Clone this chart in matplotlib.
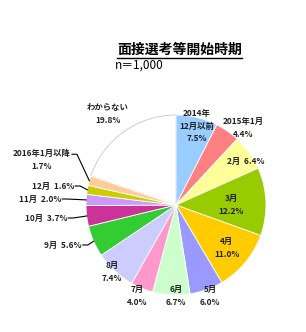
import numpy as np
import matplotlib.pyplot as plt

plt.rcParams['font.family'] = ['Noto Sans CJK JP', 'DejaVu Sans']

# --- data ---
labels = ['2014年\n12月以前', '2015年1月', '2月', '3月', '4月', '5月', '6月', '7月',
          '8月', '9月', '10月', '11月', '12月', '2016年1月以降', 'わからない']
values = [7.5, 4.4, 6.4, 12.2, 11.0, 6.0, 6.7, 4.0, 7.4, 5.6, 3.7, 2.0, 1.6, 1.7, 19.8]
colors = ['#99ccff', '#ff8080', '#ffff99', '#99cc00', '#ffcc00', '#9999ff', '#ccffcc',
          '#ff99cc', '#ccccff', '#33cc33', '#cc3399', '#cc99ff', '#cccc00', '#ffcc99', '#ffffff']
title = '面接選考等開始時期'
n_text = 'n＝1,000'

# --- layout (pixel coords, image y downwards) ---
W, H = 306, 332
cx, cy, R = 176, 205, 90
label_pos = [(197, 126), (243, 128), (246, 161), (231, 205), (227, 248), (210, 296),
             (176, 296), (137, 296), (112, 272), (63, 245), (46, 218), (40, 199),
             (53, 186), (42, 160), (108, 114)]
seps = ['\n', '\n', '  ', '\n', '\n', '\n', '\n', '\n', '\n', '  ', '  ', '  ', '  ', '\n', '\n']
leader = [9, 10, 11, 12, 13]

fig = plt.figure(figsize=(W / 100, H / 100), dpi=100)
ax = fig.add_axes([0, 0, 1, 1])
wedges, _ = ax.pie(values, colors=colors, startangle=90, counterclock=False,
                   radius=R, center=(cx, H - cy),
                   wedgeprops=dict(linewidth=0.6, edgecolor='white'))
wedges[-1].set_edgecolor('#c8c8c8')
wedges[-1].set_zorder(0.5)
ax.set_xlim(0, W)
ax.set_ylim(0, H)
ax.set_aspect('equal')
ax.axis('off')

texts = []
for lab, v, (px, py), s in zip(labels, values, label_pos, seps):
    t = ax.text(px, H - py, f'{lab}{s}{v:.1f}%', ha='center', va='center',
                fontsize=6, color='#222222', fontweight='bold', linespacing=1.5)
    texts.append(t)

# leader lines
fig.canvas.draw()
cum = np.cumsum([0] + values)
for i in leader:
    bb = texts[i].get_window_extent()
    if '\n' in texts[i].get_text():
        ty = bb.y1 - 5
    else:
        ty = (bb.y0 + bb.y1) / 2
    mid = (cum[i] + cum[i + 1]) / 2 / 100 * 2 * np.pi
    ex = cx + R * np.sin(mid)
    ey = (H - cy) + R * np.cos(mid)
    ax.plot([bb.x1 + 1, bb.x1 + 6, ex], [ty, ty, ey], color='black', lw=0.8)

# title
tt = ax.text(117, H - 50, title, fontsize=10, fontweight='bold', ha='left', va='center')
fig.canvas.draw()
tb = tt.get_window_extent()
ax.plot([tb.x0, tb.x1], [H - 57.5, H - 57.5], color='black', lw=1)
ax.text(115, H - 65, n_text, fontsize=8.5, ha='left', va='center')

fig.savefig('out.png', dpi=100)
